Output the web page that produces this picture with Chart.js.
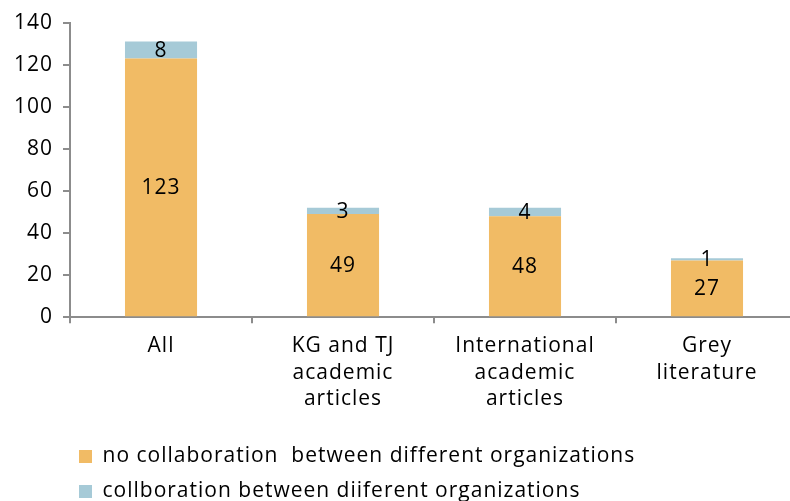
<!DOCTYPE html>
<html><head><meta charset="utf-8">
<script src="https://cdn.jsdelivr.net/npm/chart.js@4/dist/chart.umd.min.js"></script>
<style>html,body{margin:0;padding:0;background:#fff;overflow:hidden}#wrap{width:810px;height:501px}</style>
</head><body><div id="wrap"><canvas id="c"></canvas></div>
<script>
const categories = [["All"], ["KG and TJ", "academic", "articles"], ["International", "academic", "articles"], ["Grey", "literature"]];
const noCollab = [123, 49, 48, 27];
const collab = [8, 3, 4, 1];
const seriesNames = ["no collaboration  between different organizations", "collboration between diiferent organizations"];
const yTicks = [0, 20, 40, 60, 80, 100, 120, 140];

const FONT = "'Open Sans', sans-serif";
const spacing = {
  id: 'spacing',
  beforeUpdate(chart) { chart.ctx.letterSpacing = '1px'; },
  beforeDraw(chart) { chart.ctx.letterSpacing = '1px'; }
};
const labelPlugin = {
  id: 'barLabels',
  afterDatasetsDraw(chart) {
    const ctx = chart.ctx;
    ctx.save();
    ctx.font = "21px " + FONT;
    ctx.fillStyle = "#000";
    ctx.textAlign = "center";
    ctx.textBaseline = "middle";
    chart.data.datasets.forEach((ds, di) => {
      chart.getDatasetMeta(di).data.forEach((el, i) => {
        const p = el.getProps(['x', 'y', 'base'], true);
        ctx.fillText(String(ds.data[i]), p.x, (p.y + p.base) / 2 + 1);
      });
    });
    ctx.restore();
  }
};
const legendShift = {
  id: 'legendShift',
  afterLayout(chart) { if (chart.legend) { chart.legend.left += 61; chart.legend.top += 10; chart.legend.bottom += 10; } }
};

new Chart(document.getElementById('c'), {
  type: 'bar',
  data: {
    labels: categories,
    datasets: [
      { label: seriesNames[0], data: noCollab, backgroundColor: '#F1BB65' },
      { label: seriesNames[1], data: collab, backgroundColor: '#A6CAD7' }
    ]
  },
  options: {
    responsive: true, maintainAspectRatio: false, animation: false,
    layout: { padding: { left: 4, right: 12, top: 19, bottom: -1 } },
    datasets: { bar: { barPercentage: 0.396, categoryPercentage: 1 } },
    scales: {
      x: {
        stacked: true,
        grid: { display: true, drawOnChartArea: false, offset: true, tickLength: 6, color: '#8c8c8c', lineWidth: 2 },
        border: { color: '#8c8c8c', width: 2 },
        ticks: { color: '#000', font: { family: FONT, size: 21, lineHeight: 1.25 }, padding: 10, maxRotation: 0, autoSkip: false }
      },
      y: {
        stacked: true, min: 0, max: 140,
        afterBuildTicks(axis) { axis.ticks = yTicks.map(v => ({ value: v })); },
        grid: { display: true, drawOnChartArea: false, tickLength: 7, color: '#8c8c8c', lineWidth: 2 },
        border: { color: '#8c8c8c', width: 2 },
        ticks: { color: '#000', font: { family: FONT, size: 21 }, padding: 10 }
      }
    },
    plugins: {
      tooltip: { enabled: false },
      legend: {
        position: 'bottom', align: 'start',
        labels: { color: '#000', font: { family: FONT, size: 21 }, boxWidth: 13, boxHeight: 13, padding: 14 }
      }
    }
  },
  plugins: [spacing, labelPlugin, legendShift]
});
</script></body></html>
